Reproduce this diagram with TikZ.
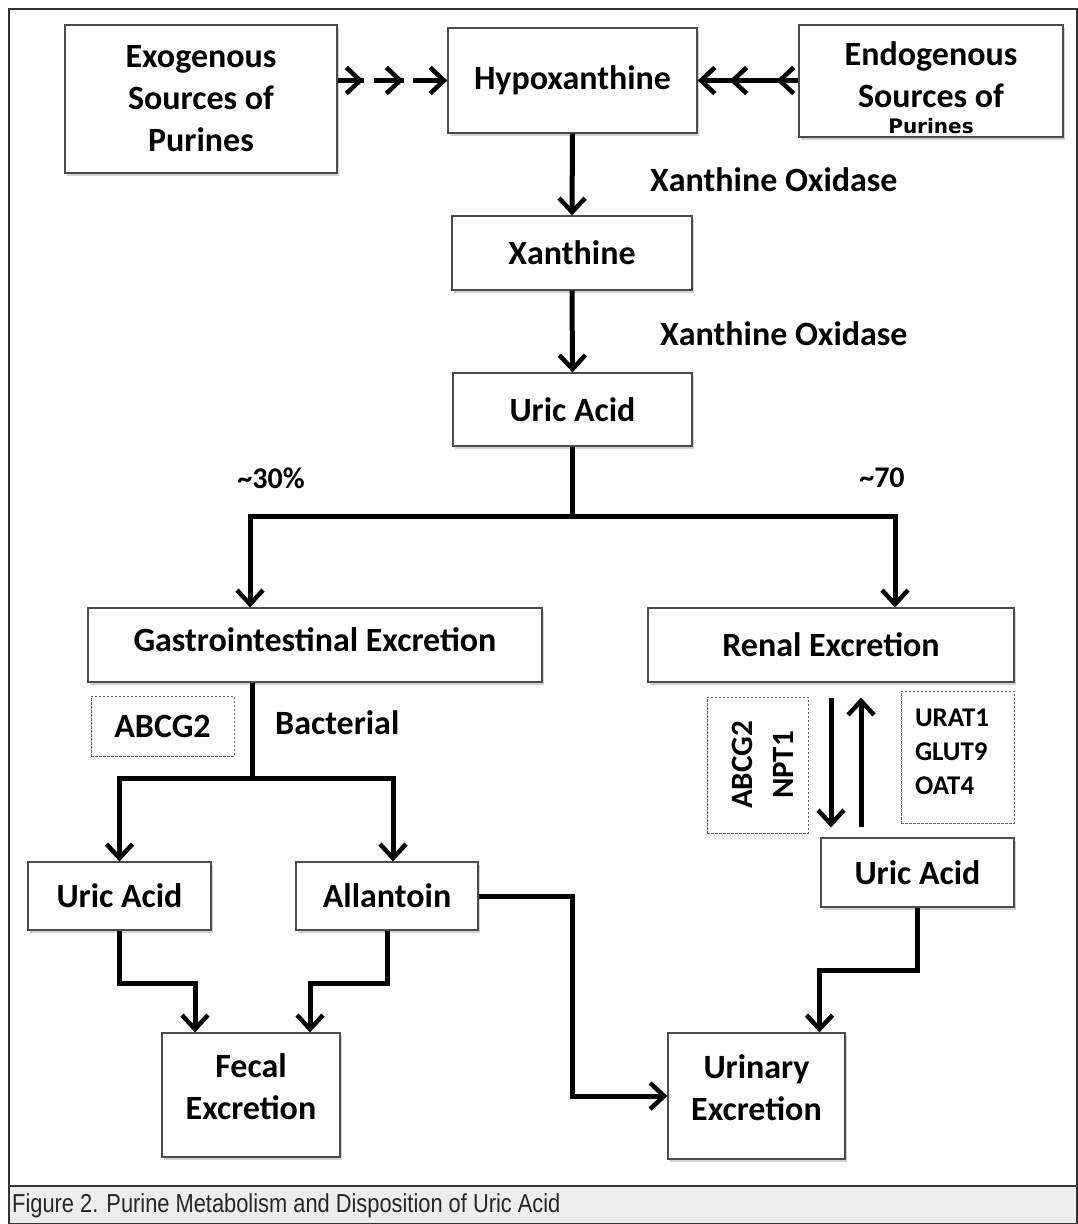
\documentclass[tikz,border=0pt]{standalone}
\usepackage{fontspec}
\setmainfont{Carlito}
\newfontfamily\purfont{DejaVu Sans}
\newfontfamily\capfont{Liberation Sans}[FakeStretch=0.84]
\usetikzlibrary{arrows.meta,shadows,decorations.markings}

\begin{document}
\begin{tikzpicture}[
    x=1pt, y=-1pt,
    >={Straight Barb[length=14pt,width=26pt,line width=4.5pt]},
    every node/.style={align=center, font=\bfseries\fontsize{34}{42}\selectfont},
    box/.style={rectangle, draw=black!70, line width=1.2pt, fill=white, inner sep=0pt,
        drop shadow={shadow xshift=1.5pt, shadow yshift=-2.5pt, opacity=0.35}},
    dotbox/.style={rectangle, draw=black!60, line width=0.8pt, dash pattern=on 2.5pt off 1.5pt, inner sep=0pt},
    arr/.style={line width=5pt, ->},
    link/.style={line width=5pt}
]
\useasboundingbox (0,0) rectangle (1078,1224);

% Frame and caption
\fill[white] (0,0) rectangle (1078,1224);
\fill[gray!14] (9,1186) rectangle (1077,1224);
\draw[line width=2pt, black!80] (9,9) rectangle (1077,1224);
\draw[line width=2pt, black!80] (9,1186) -- (1077,1186);
\node[anchor=west, inner sep=0pt, text=black!85, font=\capfont\fontsize{26}{30}\selectfont] (cap) at (12,1206) {Figure 2. Purine Metabolism and Disposition of Uric Acid};

% Nodes
\node[box, minimum width=272pt, minimum height=148pt] (exo) at (201,99) {Exogenous\\Sources of\\Purines};
\node[box, minimum width=249pt, minimum height=105pt] (hypo) at (572.5,80.5) {Hypoxanthine};
\node[box, minimum width=264pt, minimum height=112pt, text height=105pt] (endo) at (931,81) {Endogenous\\Sources of\\[-16pt]{\purfont\bfseries\fontsize{20}{24}\selectfont Purines}};
\node[box, minimum width=240pt, minimum height=74pt] (xan) at (572,253) {Xanthine};
\node[box, minimum width=239pt, minimum height=73pt] (uric) at (572.5,409.5) {Uric Acid};
\node[box, minimum width=454pt, minimum height=74pt, text depth=10pt] (gastro) at (315,645) {Gastrointestinal Excretion};
\node[box, minimum width=366pt, minimum height=74pt] (renal) at (831,645) {Renal Excretion};
\node[box, minimum width=183pt, minimum height=68pt] (uricL) at (119.5,896) {Uric Acid};
\node[box, minimum width=182pt, minimum height=68pt] (allan) at (387,896) {Allantoin};
\node[box, minimum width=193pt, minimum height=69pt] (uricR) at (917.5,872.5) {Uric Acid};
\node[box, minimum width=178pt, minimum height=124pt, text depth=16pt] (fecal) at (251,1095) {Fecal\\Excretion};
\node[box, minimum width=177pt, minimum height=126pt, text depth=16pt] (urin) at (756.5,1096) {Urinary\\Excretion};

\node[dotbox, minimum width=143pt, minimum height=60pt] (abcgL) at (162.5,726) {ABCG2};
\node[dotbox, minimum width=101pt, minimum height=136pt] (abcgR) at (757.5,765) {};
\node[rotate=90, font=\bfseries\fontsize{31}{41}\selectfont] (secr) at ([xshift=5pt]abcgR.center) {ABCG2\\NPT1};
\node[dotbox, minimum width=113pt, minimum height=132pt, text width=85pt, text depth=78pt, align=left,
    font=\bfseries\fontsize{27}{34}\selectfont] (urat) at (957.5,757) {URAT1\\GLUT9\\OAT4};

% Labels
\node[anchor=west, inner sep=0pt] (xo1) at (650,180) {Xanthine Oxidase};
\node[anchor=west, inner sep=0pt] (xo2) at (660,334) {Xanthine Oxidase};
\node[font=\bfseries\fontsize{30}{36}\selectfont] (p30) at (271,478) {\textasciitilde30\%};
\node[font=\bfseries\fontsize{30}{36}\selectfont] (p70) at (882,478) {\textasciitilde70};
\node[anchor=west, inner sep=0pt] (bact) at (275,723) {Bacterial};

% Arrows
\draw[arr, dash pattern=on 26pt off 10pt on 30pt off 9pt on 200pt off 1pt,
    postaction={decorate}, decoration={markings,
    mark=at position 26pt with {\arrow{>}},
    mark=at position 66pt with {\arrow{>}}}]
    (exo.east |- hypo.west) -- (hypo.west);
\draw[arr, postaction={decorate}, decoration={markings,
    mark=at position 22pt with {\arrow{>}},
    mark=at position 69pt with {\arrow{>}}}]
    (endo.west |- hypo.east) -- (hypo.east);
\draw[arr] (hypo.south) -- (xan.north);
\draw[arr] (xan.south) -- (uric.north);
\draw[link] (uric.south) -- ++(0,70) coordinate (split);
\draw[arr] (split) -| ([xshift=-65pt]gastro.north);
\draw[arr] (split) -| ([xshift=64pt]renal.north);
\draw[link] ([xshift=-63pt]gastro.south) -- ++(0,96) coordinate (bsplit);
\draw[arr] (bsplit) -| (uricL.north);
\draw[arr] (bsplit) -| ([xshift=6pt]allan.north);
\draw[arr] (uricL.south) -- ++(0,53) -| ([xshift=-56pt]fecal.north);
\draw[arr] (allan.south) -- ++(0,53) -| ([xshift=59pt]fecal.north);
\draw[arr] (allan.east) -- ++(94,0) |- (urin.west);
\draw[arr] (uricR.south) -- ++(0,63) -| ([xshift=63pt]urin.north);
\draw[arr] ([yshift=-15pt]renal.south) -- ([xshift=-86.5pt,yshift=10pt]uricR.north);
\draw[arr] ([xshift=-56.5pt,yshift=10pt]uricR.north) -- ([xshift=30pt,yshift=-15pt]renal.south);

\end{tikzpicture}
\end{document}
